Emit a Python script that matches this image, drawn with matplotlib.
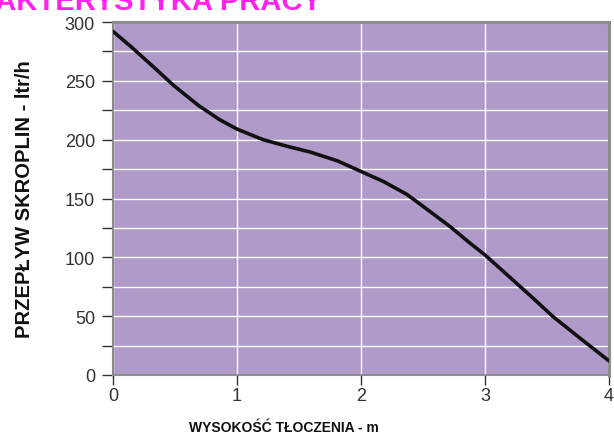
import matplotlib as mpl
mpl.use("Agg")
import matplotlib.pyplot as plt
import numpy as np

# pump curve: delivery head (m) vs condensate flow (ltr/h)
head_m = [0.0, 0.14, 0.33, 0.49, 0.69, 0.86, 1.0, 1.21, 1.40, 1.59, 1.81, 2.0,
          2.18, 2.37, 2.53, 2.72, 2.88, 3.0, 3.18, 3.37, 3.55, 3.77, 4.0]
flow_lh = [292, 279.5, 261.5, 246, 229, 217, 209, 200, 194.5, 189.5, 182, 173,
           164.5, 153.5, 141, 126, 112, 102, 85, 67, 49.5, 31, 12]
x_ticks = [0, 1, 2, 3, 4]
y_ticks = [0, 50, 100, 150, 200, 250, 300]

BG = "#b09aca"
EDGE = "#8c8c8c"
plt.rcParams.update({"font.family": ["Liberation Sans", "DejaVu Sans"]})

fig = plt.figure(figsize=(6.14, 4.39), dpi=100)
ax = fig.add_axes([113 / 614, 1 - 376 / 439, 496 / 614, 353 / 439])
ax.set_facecolor(BG)

ax.plot(head_m, flow_lh, color="#111111", lw=2.6, solid_joinstyle="round",
        solid_capstyle="round", zorder=3)

ax.set_xlim(0, 4)
ax.set_ylim(0, 300)
ax.set_xticks(x_ticks)
ax.set_yticks(y_ticks)
ax.set_yticks(np.arange(0, 301, 25), minor=True)
ax.grid(which="both", axis="y", color="white", lw=1.0)
ax.grid(which="major", axis="x", color="white", lw=1.0)
ax.set_axisbelow(True)

ax.tick_params(axis="both", which="both", direction="out", color="#333333", labelcolor="#333333",
               labelsize=13, width=1.0)
ax.tick_params(axis="y", which="both", length=8, pad=5)
ax.tick_params(axis="x", length=7, pad=2)
for s in ("left", "bottom"):
    ax.spines[s].set_color(EDGE); ax.spines[s].set_linewidth(1.5)
for s in ("top", "right"):
    ax.spines[s].set_color(EDGE); ax.spines[s].set_linewidth(2.2)

fig.text(284 / 614, 1 - 428 / 439, "WYSOKOŚĆ TŁOCZENIA - m", fontsize=10,
         fontweight="bold", color="#111111", ha="center", va="center")
fig.text(25 / 614, 1 - 199 / 439, "PRZEPŁYW SKROPLIN - ltr/h", fontsize=14.5,
         fontweight="bold", color="#111111", ha="center", va="center", rotation=90)

fig.text(322 / 614, 1 - 10 / 439, "CHARAKTERYSTYKA PRACY", color="#ff22ee", fontsize=21,
         fontweight="bold", ha="right", va="baseline")

fig.savefig("out.png", dpi=100, facecolor="white")
